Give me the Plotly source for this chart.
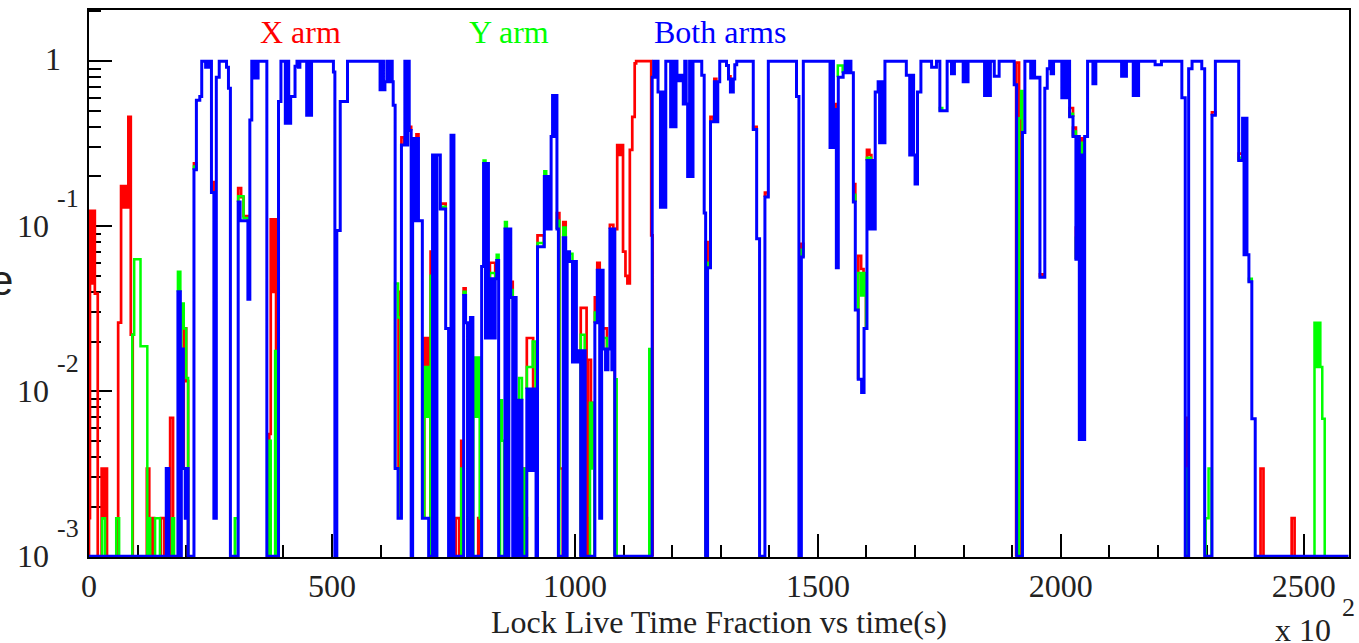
import math
import plotly.graph_objects as go

FLOOR = 0.001
X_MAX = 2593

# Step histograms: (time [x100 s], live-time fraction from that time on). None separates runs.
BLUE_STEPS = [
    (0, 0.001), (159, 0.0034), (164, 0.001), (183, 0.040), (188, 0.001), (190, 0.018), (194, 0.0034),
    (198, 0.0017), (201, 0.0034), (204, 0.001),
    (216, 0.22), (221, 0.58), (228, 0.61), (232, 1.0), (240, 0.92), (243, 1.0), (246, 0.92), (249, 1.0),
    (252, 0.16), (257, 0.0017), (262, 0.80), (268, 1.0), (283, 0.92), (287, 0.685), (291, 0.001),
    (307, 0.14), (311, 0.108), (327, 0.036), (331, 0.44), (335, 1.0), (338, 0.79), (341, 1.0), (345, 0.79),
    (348, 1.0), (366, 0.001),
    (390, 0.57), (395, 1.0), (404, 0.42), (408, 1.0), (411, 0.42), (415, 0.61), (424, 0.93), (428, 1.0),
    (431, 0.92), (434, 1.0), (448, 0.47), (452, 1.0), (455, 0.47), (458, 1.0),
    (503, 0.86), (506, 0.001), (510, 0.094), (517, 0.57), (532, 1.0),
    (599, 0.67), (603, 1.0), (606, 0.67), (609, 0.75), (613, 1.0), (617, 0.75), (621, 1.0), (624, 0.75),
    (626, 0.54), (630, 0.0034), (636, 0.0017), (643, 0.31),
    (650, 1.0), (653, 0.31), (656, 1.0), (659, 0.38), (663, 0.001), (666, 0.34), (670, 0.108), (674, 0.34),
    (678, 0.108), (686, 0.0017), (699, 0.001), (707, 0.27), (711, 0.001), (716, 0.27), (723, 0.127),
    (734, 0.024), (740, 0.001), (745, 0.355), (751, 0.001),
    (771, 0.038), (775, 0.026), (779, 0.001), (785, 0.028), (790, 0.001), (808, 0.057), (812, 0.24),
    (816, 0.021), (819, 0.24), (822, 0.021), (825, 0.048), (831, 0.021), (836, 0.048), (839, 0.062),
    (843, 0.001),
    (856, 0.096), (860, 0.001), (864, 0.096), (868, 0.037), (872, 0.001), (875, 0.037), (879, 0.001),
    (885, 0.0088), (891, 0.001), (901, 0.0103), (905, 0.0033), (909, 0.0103), (913, 0.0033), (917, 0.0103),
    (920, 0.001),
    (923, 0.075), (937, 0.2), (941, 0.096), (945, 0.2), (949, 0.096), (951, 0.35), (954, 0.62), (957, 0.35),
    (960, 0.62), (963, 0.096), (966, 0.001),
    (976, 0.085), (981, 0.001), (984, 0.07), (989, 0.061), (995, 0.015), (999, 0.061), (1003, 0.015),
    (1007, 0.0176), (1012, 0.001), (1015, 0.0176), (1021, 0.001),
    (1041, 0.026), (1046, 0.054), (1051, 0.0017), (1055, 0.054), (1058, 0.018), (1063, 0.0135), (1068, 0.018),
    (1072, 0.096), (1076, 0.0135), (1079, 0.096), (1082, 0.001),
    (1159, 0.8), (1162, 1.0), (1165, 0.8), (1168, 1.0), (1171, 0.65), (1176, 0.13), (1179, 0.65), (1183, 0.13),
    (1187, 1.0),
    (1197, 0.4), (1201, 1.0), (1204, 0.4), (1208, 1.0), (1210, 0.82), (1214, 0.76), (1220, 0.82), (1223, 0.55),
    (1226, 1.0), (1229, 0.55), (1232, 0.2), (1236, 1.0), (1239, 0.2), (1243, 1.0),
    (1261, 0.82), (1266, 0.12), (1269, 0.001), (1273, 0.056), (1279, 0.43), (1287, 0.75), (1291, 0.43),
    (1294, 0.75), (1298, 1.0),
    (1312, 0.94), (1316, 0.78), (1320, 0.65), (1326, 0.78), (1329, 0.95), (1333, 1.0), (1367, 0.385),
    (1374, 0.084), (1380, 0.001), (1391, 0.15), (1398, 1.0),
    (1456, 0.61), (1461, 0.001), (1466, 0.065), (1470, 1.0),
    (1525, 0.3), (1529, 1.0), (1532, 0.3), (1535, 0.51), (1538, 0.056), (1542, 0.8), (1552, 0.85), (1556, 1.0),
    (1560, 0.85), (1564, 1.0), (1568, 0.85),
    (1573, 0.14), (1577, 0.031), (1583, 0.0118), (1590, 0.0098), (1595, 0.024), (1601, 0.25), (1605, 0.096),
    (1609, 0.25), (1613, 0.096), (1618, 0.65), (1624, 0.75), (1627, 0.32), (1631, 0.75), (1634, 0.32),
    (1638, 1.0),
    (1682, 0.82), (1689, 0.27), (1693, 0.82), (1697, 0.27), (1700, 0.18), (1705, 0.65), (1712, 1.0),
    (1734, 0.92), (1744, 1.0), (1751, 0.5), (1766, 1.0), (1775, 0.84), (1781, 1.0), (1799, 0.75), (1803, 1.0),
    (1806, 0.75), (1809, 1.0), (1843, 0.62), (1847, 1.0), (1851, 0.62), (1855, 1.0), (1863, 0.81), (1873, 1.0),
    (1904, 0.72), (1909, 0.001), (1921, 0.37), (1926, 1.0), (1938, 0.79), (1942, 1.0), (1946, 0.79),
    (1952, 0.8), (1957, 0.049), (1967, 0.685), (1972, 0.9), (1977, 1.0), (1980, 0.84), (1985, 1.0),
    (2002, 0.6), (2005, 1.0), (2008, 0.6), (2012, 1.0), (2018, 0.46), (2025, 0.35), (2031, 0.063), (2035, 0.35),
    (2038, 0.0051), (2042, 0.27), (2045, 0.0051), (2049, 0.35), (2055, 1.0),
    (2066, 0.73), (2072, 1.0), (2125, 0.81), (2129, 1.0), (2132, 0.81), (2135, 1.0), (2149, 0.62), (2153, 1.0),
    (2156, 0.62), (2160, 1.0),
    (2194, 0.95), (2207, 1.0), (2249, 0.6), (2256, 0.001), (2263, 0.9), (2270, 1.0), (2290, 0.9), (2296, 0.001),
    (2311, 0.47), (2318, 1.0),
    (2366, 0.25), (2374, 0.45), (2377, 0.067), (2380, 0.45), (2383, 0.067), (2387, 0.046), (2393, 0.0068),
    (2400, 0.001), (2592, 0.001),
]

RED_STEPS = [
    (0, 0.001), (0, 0.0017), (2, 0.124), (6, 0.045), (9, 0.124), (12, 0.039), (18, 0.001), None,
    (26, 0.001), (26, 0.0034), (31, 0.0017), (34, 0.0034), (37, 0.001), None,
    (60, 0.001), (60, 0.026), (66, 0.175), (69, 0.13), (73, 0.175), (77, 0.13), (81, 0.46), (86, 0.022), (90, 0.001), None,
    (119, 0.001), (119, 0.0034), (124, 0.001), None,
    (129, 0.001), (129, 0.0017), (134, 0.001), None,
    (148, 0.001), (148, 0.0017), (155, 0.001), None,
    (167, 0.001), (167, 0.0069), (173, 0.001), None,
    (195, 0.0034), (195, 0.024), (200, 0.0115), (204, 0.001), None,
    (216, 0.22), (216, 0.24), (221, 0.22), None,
    (252, 0.16), (252, 0.185), (257, 0.16), None,
    (307, 0.14), (307, 0.17), (313, 0.15), (318, 0.115), (327, 0.108), None,
    (371, 0.001), (371, 0.0055), (374, 0.11), (378, 0.04), (382, 0.11), (385, 0.001), None,
    (637, 0.0017), (637, 0.04), (642, 0.0017), None,
    (643, 0.31), (643, 0.345), (649, 0.31), None,
    (659, 0.38), (659, 0.40), (663, 0.38), None,
    (674, 0.34), (674, 0.36), (678, 0.34), None,
    (690, 0.0017), (690, 0.021), (695, 0.014), (699, 0.021), (703, 0.001), None,
    (703, 0.001), (703, 0.07), (707, 0.001), None,
    (723, 0.127), (723, 0.137), (734, 0.127), None,
    (755, 0.001), (755, 0.0017), (762, 0.001), None,
    (766, 0.001), (766, 0.005), (771, 0.001), None,
    (771, 0.038), (771, 0.042), (775, 0.038), None,
    (801, 0.001), (801, 0.0017), (806, 0.001), None,
    (825, 0.048), (825, 0.06), (836, 0.048), None,
    (868, 0.037), (868, 0.046), (872, 0.037), None,
    (894, 0.001), (894, 0.0034), (899, 0.0017), (901, 0.001), None,
    (901, 0.0103), (901, 0.021), (914, 0.0103), None,
    (923, 0.075), (923, 0.088), (936, 0.075), None,
    (963, 0.096), (963, 0.12), (968, 0.0034), (975, 0.001), None,
    (976, 0.085), (976, 0.106), (981, 0.085), None,
    (1012, 0.001), (1012, 0.032), (1024, 0.001), None,
    (1027, 0.001), (1027, 0.0155), (1033, 0.0085), (1040, 0.001), None,
    (1041, 0.026), (1041, 0.037), (1046, 0.026), None,
    (1046, 0.054), (1046, 0.06), (1051, 0.054), None,
    (1058, 0.018), (1058, 0.024), (1066, 0.018), None,
    (1072, 0.096), (1072, 0.102), (1079, 0.096), None,
    (1082, 0.001), (1082, 0.096), (1087, 0.31), (1091, 0.27), (1095, 0.31), (1099, 0.07), (1104, 0.05),
    (1108, 0.045), (1113, 0.29), (1118, 0.46), (1123, 0.97), (1126, 1.0), (1157, 0.088), (1160, 0.001), None,
    (1269, 0.001), (1269, 0.08), (1273, 0.056), None,
    (1279, 0.43), (1279, 0.46), (1285, 0.43), None,
    (1287, 0.75), (1287, 0.78), (1291, 0.75), None,
    (1316, 0.78), (1316, 0.81), (1320, 0.78), None,
    (1367, 0.385), (1367, 0.40), (1374, 0.385), None,
    (1391, 0.15), (1391, 0.16), (1397, 0.15), None,
    (1466, 0.065), (1466, 0.078), (1470, 0.065), None,
    (1535, 0.51), (1535, 0.55), (1538, 0.51), None,
    (1573, 0.14), (1573, 0.18), (1577, 0.14), None,
    (1583, 0.0118), (1583, 0.066), (1589, 0.055), (1594, 0.042), (1599, 0.024), None,
    (1601, 0.25), (1601, 0.29), (1606, 0.27), (1610, 0.25), None,
    (1908, 0.001), (1908, 0.98), (1914, 0.45), (1918, 0.001), None,
    (1957, 0.049), (1957, 0.051), (1963, 0.049), None,
    (2018, 0.46), (2018, 0.52), (2025, 0.46), None,
    (2025, 0.35), (2025, 0.395), (2031, 0.35), None,
    (2031, 0.063), (2031, 0.098), (2035, 0.063), None,
    (2042, 0.27), (2042, 0.34), (2045, 0.27), None,
    (2257, 0.001), (2257, 0.0069), (2262, 0.001), None,
    (2311, 0.47), (2311, 0.49), (2318, 0.47), None,
    (2366, 0.25), (2366, 0.275), (2374, 0.25), None,
    (2411, 0.001), (2411, 0.0034), (2417, 0.001), None,
    (2475, 0.001), (2475, 0.0017), (2481, 0.001),
]

GREEN_STEPS = [
    (27, 0.001), (27, 0.0017), (33, 0.001), None,
    (56, 0.001), (56, 0.0017), (62, 0.001), None,
    (89, 0.001), (89, 0.022), (93, 0.063), (106, 0.0187), (120, 0.001), None,
    (122, 0.001), (122, 0.0017), (126, 0.001), None,
    (136, 0.001), (136, 0.0017), (146, 0.001), None,
    (171, 0.001), (171, 0.0017), (175, 0.001), None,
    (183, 0.04), (183, 0.053), (188, 0.04), None,
    (190, 0.018), (190, 0.034), (195, 0.024), (200, 0.012), (204, 0.001), None,
    (216, 0.22), (216, 0.23), (221, 0.22), None,
    (300, 0.001), (300, 0.0017), (306, 0.001), None,
    (307, 0.14), (307, 0.152), (318, 0.112), (327, 0.108), None,
    (370, 0.001), (370, 0.005), (374, 0.001), None,
    (383, 0.001), (383, 0.0175), (386, 0.001), None,
    (630, 0.0034), (630, 0.045), (636, 0.028), (641, 0.0017), None,
    (690, 0.0017), (690, 0.014), (695, 0.007), (699, 0.014), (703, 0.0017), None,
    (703, 0.001), (703, 0.05), (707, 0.001), None,
    (723, 0.127), (723, 0.131), (734, 0.127), None,
    (766, 0.001), (766, 0.0034), (771, 0.001), None,
    (771, 0.038), (771, 0.04), (775, 0.038), None,
    (791, 0.001), (791, 0.016), (796, 0.007), (800, 0.016), (804, 0.0017), (808, 0.001), None,
    (812, 0.24), (812, 0.25), (816, 0.24), None,
    (825, 0.048), (825, 0.052), (836, 0.048), None,
    (839, 0.062), (839, 0.067), (843, 0.062), None,
    (846, 0.001), (846, 0.0088), (850, 0.005), (854, 0.001), None,
    (856, 0.096), (856, 0.106), (860, 0.096), None,
    (868, 0.037), (868, 0.041), (872, 0.037), None,
    (879, 0.001), (879, 0.0088), (883, 0.001), None,
    (885, 0.0088), (885, 0.012), (891, 0.0088), None,
    (894, 0.001), (894, 0.0034), (899, 0.001), None,
    (901, 0.0103), (901, 0.014), (913, 0.02), (919, 0.0103), None,
    (923, 0.075), (923, 0.079), (936, 0.075), None,
    (937, 0.2), (937, 0.215), (941, 0.2), None,
    (963, 0.096), (963, 0.108), (968, 0.001), None,
    (976, 0.085), (976, 0.098), (981, 0.085), None,
    (989, 0.061), (989, 0.068), (995, 0.061), None,
    (1012, 0.001), (1012, 0.022), (1020, 0.001), None,
    (1031, 0.001), (1031, 0.0085), (1036, 0.0034), (1040, 0.001), None,
    (1041, 0.026), (1041, 0.03), (1046, 0.026), None,
    (1058, 0.018), (1058, 0.021), (1066, 0.018), None,
    (1082, 0.001), (1082, 0.0118), (1086, 0.001), None,
    (1153, 0.001), (1153, 0.018), (1157, 0.001), None,
    (1269, 0.001), (1269, 0.06), (1273, 0.056), None,
    (1466, 0.065), (1466, 0.072), (1470, 0.065), None,
    (1541, 0.8), (1541, 0.94), (1551, 0.85), None,
    (1573, 0.14), (1573, 0.155), (1577, 0.14), None,
    (1583, 0.0118), (1583, 0.052), (1589, 0.038), (1594, 0.052), (1599, 0.024), None,
    (1601, 0.25), (1601, 0.26), (1609, 0.25), None,
    (1751, 0.5), (1751, 0.52), (1756, 0.5), None,
    (1914, 0.001), (1914, 0.45), (1918, 0.66), (1921, 0.001), None,
    (2018, 0.46), (2018, 0.48), (2025, 0.46), None,
    (2025, 0.35), (2025, 0.375), (2031, 0.35), None,
    (2031, 0.063), (2031, 0.085), (2035, 0.063), None,
    (2042, 0.27), (2042, 0.32), (2045, 0.27), None,
    (2257, 0.001), (2257, 0.0034), (2262, 0.001), None,
    (2298, 0.001), (2298, 0.0017), (2304, 0.0034), (2310, 0.001), None,
    (2366, 0.25), (2366, 0.26), (2374, 0.25), None,
    (2387, 0.046), (2387, 0.048), (2393, 0.046), None,
    (2522, 0.001), (2522, 0.026), (2527, 0.014), (2530, 0.026), (2534, 0.014), (2538, 0.0068), (2543, 0.001),
]

SERIES_NAMES = ["X arm", "Y arm", "Both arms"]
SERIES_COLORS = ["#ff0000", "#00ff00", "#0000ff"]
LABEL_CENTERS = [300, 509, 720]          # legend label centres (px)

Y_TICKS = [0.001, 0.01, 0.1, 1]
Y_TICK_EXP = ["-3", "-2", "-1", ""]
X_TITLE = "Lock Live Time Fraction vs time(s)"

PL, PR, PT, PB = 89, 1349, 8, 557       # plot area in px
W, H = 1359, 643
SERIF = "Liberation Serif, Times New Roman, serif"


def unzip(steps):
    xs, ys = [], []
    for s in steps:
        if s is None:
            xs.append(None)
            ys.append(None)
        else:
            xs.append(s[0])
            ys.append(s[1])
    return xs, ys


fig = go.Figure()
for steps, name, color, width in [(RED_STEPS, SERIES_NAMES[0], SERIES_COLORS[0], 2.7),
                                  (GREEN_STEPS, SERIES_NAMES[1], SERIES_COLORS[1], 2.5),
                                  (BLUE_STEPS, SERIES_NAMES[2], SERIES_COLORS[2], 3)]:
    xs, ys = unzip(steps)
    fig.add_trace(go.Scatter(x=xs, y=ys, mode="lines", name=name, connectgaps=False,
                             line=dict(color=color, width=width, shape="hv"), hoverinfo="skip"))

fig.update_layout(
    width=W, height=H, margin=dict(l=PL, r=W - PR, t=PT, b=H - PB),
    plot_bgcolor="white", paper_bgcolor="white", showlegend=False,
    font=dict(family=SERIF, color="black", size=32),
)
fig.update_xaxes(
    range=[0, X_MAX], showgrid=False, zeroline=False, showline=True, linecolor="black", linewidth=2,
    mirror=True, ticks="inside", ticklen=23, tickwidth=2, tickcolor="black", tick0=0, dtick=500,
    minor=dict(dtick=100, ticks="inside", ticklen=12, tickwidth=2, tickcolor="black", showgrid=False),
    tickfont=dict(family=SERIF, size=32, color="#222"), layer="below traces",
)
fig.update_yaxes(
    type="log", range=[-3.005, 0.31], showgrid=False, zeroline=False, showline=True, linecolor="black",
    linewidth=2, mirror=True, ticks="inside", ticklen=23, tickwidth=2, tickcolor="black",
    tickmode="linear", tick0=0, dtick=1, showticklabels=False,
    minor=dict(dtick="D1", ticks="inside", ticklen=12, tickwidth=2, tickcolor="black", showgrid=False),
    layer="below traces",
)

# y tick labels (10 with raised exponent, as drawn by ROOT)
for v, e in zip(Y_TICKS, Y_TICK_EXP):
    ly = math.log10(v)
    if e:
        fig.add_annotation(x=0, xref="paper", y=ly, yref="y", text="10", showarrow=False,
                           xanchor="left", yanchor="middle", xshift=15 - PL,
                           font=dict(family=SERIF, size=32, color="#222"))
        fig.add_annotation(x=0, xref="paper", y=ly, yref="y", text=e, showarrow=False,
                           xanchor="left", yanchor="middle", xshift=55 - PL, yshift=28,
                           font=dict(family=SERIF, size=26, color="#222"))
    else:
        fig.add_annotation(x=0, xref="paper", y=ly, yref="y", text="1", showarrow=False,
                           xanchor="left", yanchor="middle", xshift=43 - PL, yshift=2,
                           font=dict(family=SERIF, size=32, color="#222"))

# series labels at the top
for name, color, cx in zip(SERIES_NAMES, SERIES_COLORS, LABEL_CENTERS):
    fig.add_annotation(x=(cx - PL) / (PR - PL), xref="paper", y=1, yref="paper", yshift=-(30 - PT),
                       text=name, showarrow=False, xanchor="center", yanchor="middle",
                       font=dict(family=SERIF, size=32, color=color))

# axis title and multiplier
fig.add_annotation(x=0.5, xref="paper", y=0, yref="paper", yshift=-(622 - PB), text=X_TITLE,
                   showarrow=False, xanchor="center", yanchor="middle",
                   font=dict(family=SERIF, size=32, color="#222"))
fig.add_annotation(x=(1273 - PL) / (PR - PL), xref="paper", y=0, yref="paper", yshift=-(630 - PB),
                   text="x 10", showarrow=False, xanchor="left", yanchor="middle",
                   font=dict(family=SERIF, size=32, color="#222"))
fig.add_annotation(x=(1340 - PL) / (PR - PL), xref="paper", y=0, yref="paper", yshift=-(607 - PB),
                   text="2", showarrow=False, xanchor="left", yanchor="middle",
                   font=dict(family=SERIF, size=26, color="#222"))
# clipped y-axis title fragment
fig.add_annotation(x=(15 - PL) / (PR - PL), xref="paper", y=0, yref="paper", yshift=PB - 280,
                   text="e", showarrow=False, xanchor="right", yanchor="middle",
                   font=dict(family="Liberation Sans, Arial, sans-serif", size=42, color="#222"))

fig.write_html("out.html", config={"displayModeBar": False},
               post_script="document.body.style.margin='0';document.body.style.overflow='hidden';")
